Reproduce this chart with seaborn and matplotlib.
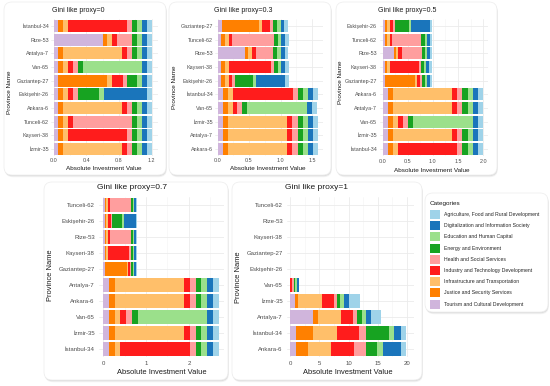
import numpy as np
import pandas as pd
import matplotlib
matplotlib.use('Agg')
import matplotlib.pyplot as plt
import seaborn as sns
from matplotlib.patches import FancyBboxPatch, Rectangle
from matplotlib.transforms import Affine2D
from matplotlib.ticker import MultipleLocator, FormatStrFormatter

# categories (legend order) and the stacking order used in the bars
CATEGORIES = ['Agriculture, Food and Rural Development',
              'Digitalization and Information Society',
              'Education and Human Capital',
              'Energy and Environment',
              'Health and Social Services',
              'Industry and Technology Development',
              'Infrastructure and Transportation',
              'Justice and Security Services',
              'Tourism and Cultural Development']
STACK = CATEGORIES[::-1]
COLORS = ['#9fd3e9', '#1a75bb', '#9be08b', '#17a321', '#ff9e9e',
          '#ff1c1c', '#ffbf6a', '#ff8000', '#d0b5dc']

# values per province, columns in STACK order:
# Tourism, Justice, Infrastructure, Industry, Health, Energy, Education, Digitalization, Agriculture
ORDER_0 = ['İstanbul-34', 'Rize-53', 'Antalya-7', 'Van-65', 'Gaziantep-27',
           'Eskişehir-26', 'Ankara-6', 'Tunceli-62', 'Kayseri-38', 'İzmir-35']
VALS_0 = [[.06, .06, .06, .72, .06, .06, .06, .06, .06],
          [.60, .06, .05, .07, .18, .06, .06, .06, .06],
          [.06, .06, .72, .06, .06, .06, .06, .06, .06],
          [.06, .06, .06, .06, .06, .06, .72, .06, .06],
          [.06, .59, .06, .14, .05, .12, .06, .06, .06],
          [.06, .06, .06, .06, .06, .26, .06, .52, .06],
          [.06, .06, .72, .06, .06, .06, .06, .06, .06],
          [.06, .06, .06, .06, .72, .06, .06, .06, .06],
          [.06, .06, .06, .72, .06, .06, .06, .06, .06],
          [.06, .06, .72, .06, .06, .06, .06, .06, .06]]

ORDER_03 = ['Gaziantep-27', 'Tunceli-62', 'Rize-53', 'Kayseri-38', 'Eskişehir-26',
            'İstanbul-34', 'Van-65', 'İzmir-35', 'Antalya-7', 'Ankara-6']
VALS_03 = [[.065, .59, .055, .13, .045, .065, .055, .055, .065],
           [.055, .065, .055, .055, .66, .065, .055, .065, .055],
           [.43, .055, .065, .055, .28, .065, .055, .065, .055],
           [.055, .065, .055, .67, .045, .065, .055, .065, .055],
           [.055, .065, .055, .055, .055, .28, .04, .47, .055],
           [.08, .08, .08, .96, .07, .08, .08, .08, .08],
           [.08, .08, .08, .07, .08, .08, .95, .08, .08],
           [.08, .08, .95, .08, .08, .08, .08, .08, .08],
           [.08, .08, .95, .08, .08, .08, .08, .08, .08],
           [.08, .08, .95, .08, .08, .08, .08, .08, .08]]

ORDER_05 = ['Eskişehir-26', 'Tunceli-62', 'Rize-53', 'Kayseri-38', 'Gaziantep-27',
            'Ankara-6', 'Antalya-7', 'Van-65', 'İzmir-35', 'İstanbul-34']
VALS_05 = [[.045, .05, .045, .065, .04, .29, .04, .36, .05],
           [.045, .05, .045, .055, .58, .06, .04, .06, .05],
           [.22, .045, .045, .07, .40, .055, .04, .06, .05],
           [.045, .05, .045, .59, .04, .06, .04, .06, .05],
           [.045, .60, .035, .06, .04, .06, .04, .06, .05],
           [.10, .10, 1.19, .10, .10, .10, .10, .10, .10],
           [.10, .10, 1.19, .10, .10, .10, .10, .10, .10],
           [.10, .10, .10, .10, .10, .10, 1.19, .10, .10],
           [.10, .10, 1.19, .10, .10, .10, .10, .10, .10],
           [.10, .10, .10, 1.19, .10, .10, .10, .10, .10]]

ORDER_07 = ['Tunceli-62', 'Eskişehir-26', 'Rize-53', 'Kayseri-38', 'Gaziantep-27',
            'Antalya-7', 'Ankara-6', 'Van-65', 'İzmir-35', 'İstanbul-34']
VALS_07 = [[.04, .04, .04, .04, .49, .04, .04, .04, .03],
           [.04, .04, .04, .06, .02, .25, .05, .26, .03],
           [.04, .04, .04, .04, .49, .04, .04, .04, .03],
           [.04, .04, .04, .49, .04, .04, .04, .04, .03],
           [.04, .51, .03, .04, .03, .04, .04, .04, .03],
           [.14, .13, 1.62, .13, .14, .13, .13, .14, .14],
           [.14, .13, 1.62, .13, .14, .13, .13, .14, .14],
           [.14, .13, .13, .14, .14, .13, 1.61, .14, .14],
           [.14, .13, 1.62, .13, .14, .13, .13, .14, .14],
           [.14, .13, .13, 1.62, .14, .13, .13, .14, .14]]

ORDER_1 = ['Tunceli-62', 'Rize-53', 'Kayseri-38', 'Gaziantep-27', 'Eskişehir-26',
           'Van-65', 'İzmir-35', 'Antalya-7', 'İstanbul-34', 'Ankara-6']
VALS_1 = [[.005] * 9,
          [.005] * 9,
          [.005] * 9,
          [.005] * 9,
          [.005] * 9,
          [.02, .02, .02, .3, .25, .3, .35, .2, .15],
          [.9, .55, 4.0, 2.0, .6, .5, .6, .85, 2.0],
          [4.0, .75, 4.0, 2.0, .75, .85, .7, .85, 1.6],
          [1.0, 3.0, 4.0, 3.85, 1.15, 4.0, .85, 1.15, .85],
          [1.0, 2.0, 4.0, 4.0, 2.0, 1.9, 1.0, 3.15, .85]]

TITLES = ['Gini like proxy=0', 'Gini like proxy=0.3', 'Gini like proxy=0.5',
          'Gini like proxy=0.7', 'Gini like proxy=1']

sns.set_style('whitegrid')
plt.rcParams['font.family'] = ['Liberation Sans', 'DejaVu Sans']
plt.rcParams['patch.force_edgecolor'] = False

W, H = 550, 386
fig = plt.figure(figsize=(W / 100, H / 100), dpi=100)
fig.patch.set_facecolor('white')
px = Affine2D().scale(1 / W, -1 / H).translate(0, 1) + fig.transFigure


def card(x0, y0, x1, y1):
    for off, a in [(2.2, 0.05), (1.2, 0.08)]:
        fig.patches.append(FancyBboxPatch((x0 + off * 0.4, y0 + off), x1 - x0, y1 - y0,
                                          boxstyle='round,pad=0,rounding_size=8',
                                          transform=px, fc='black', alpha=a,
                                          ec='none', zorder=-3))
    fig.patches.append(FancyBboxPatch((x0, y0), x1 - x0, y1 - y0,
                                      boxstyle='round,pad=0,rounding_size=8',
                                      transform=px, fc='white', ec='#ececec',
                                      lw=0.5, zorder=-2))


def ftext(x, y, s, **kw):
    fig.text(x / W, 1 - y / H, s, **kw)


# cards
for c in [(4, 2, 166, 175), (169, 2, 331, 175), (336, 2, 497, 175),
          (44, 182, 228, 380), (232, 182, 422, 380), (425, 193, 548, 312)]:
    card(*c)

# layout: zero px, px per unit, axes left/top/right/bottom px, ticks, fonts
LAYOUT = [
    dict(x0=53.5, s=81.7, box=(51, 19, 158, 156), ticks=[0, .4, .8, 1.2], fmt='%.1f',
         fs=3.9, lfs=4.6, tfs=5.0, title=(52, 10.5), ylab=(10, 92), xlab=(104, 168), pad=1.6),
    dict(x0=217.5, s=63.0, box=(215, 19, 323, 156), ticks=[0, .5, 1, 1.5], fmt='%.1f',
         fs=3.9, lfs=4.6, tfs=5.0, title=(214, 10.5), ylab=(175, 87), xlab=(268, 169), pad=1.6),
    dict(x0=382.5, s=50.3, box=(380, 19, 488, 156), ticks=[0, .5, 1, 1.5, 2], fmt='%.1f',
         fs=3.9, lfs=4.6, tfs=5.0, title=(378, 11), ylab=(340, 82), xlab=(432, 170), pad=2.2),
    dict(x0=103, s=43.0, box=(99, 197, 224, 357), ticks=[0, 1, 2], fmt='%d',
         fs=4.3, lfs=5.4, tfs=6.0, title=(97, 188), ylab=(51, 275), xlab=(162, 373), pad=3.0),
    dict(x0=290, s=5.85, box=(287, 197, 414, 357), ticks=[0, 5, 10, 15, 20], fmt='%d',
         fs=4.3, lfs=5.4, tfs=6.0, title=(285, 188), ylab=(238, 277), xlab=(348, 373), pad=3.0),
]

PANEL_DATA = [(ORDER_0, VALS_0), (ORDER_03, VALS_03), (ORDER_05, VALS_05),
              (ORDER_07, VALS_07), (ORDER_1, VALS_1)]
color_of = dict(zip(CATEGORIES, COLORS))

for (order, vals), lay, title in zip(PANEL_DATA, LAYOUT, TITLES):
    L, T, R, B = lay['box']
    ax = fig.add_axes([L / W, 1 - B / H, (R - L) / W, (B - T) / H])
    ax.set_facecolor('none')
    df = pd.DataFrame(vals, index=order, columns=STACK)
    cum = df.cumsum(axis=1)
    # draw cumulative totals from the longest to the shortest so they stack
    for cat in STACK[::-1]:
        sns.barplot(x=cum[cat].values, y=order, order=order, orient='h',
                    color=color_of[cat], saturation=1, width=0.87, linewidth=0,
                    edgecolor='none', errorbar=None, ax=ax)
    ax.set_xlim((L - lay['x0']) / lay['s'], (R - lay['x0']) / lay['s'])
    ax.set_xticks(lay['ticks'])
    ax.xaxis.set_major_formatter(FormatStrFormatter(lay['fmt']))
    ax.xaxis.set_minor_locator(MultipleLocator((lay['ticks'][1] - lay['ticks'][0]) / 2))
    ax.grid(which='major', axis='both', color='#ebebeb', lw=0.6)
    ax.grid(which='minor', axis='x', color='#f3f3f3', lw=0.4)
    ax.set_axisbelow(True)
    for sp in ax.spines.values():
        sp.set_visible(False)
    ax.tick_params(axis='both', which='both', length=0, labelsize=lay['fs'],
                   labelcolor='#4d4d4d', pad=lay['pad'])
    ax.set_xlabel('')
    ax.set_ylabel('')
    ftext(*lay['title'], title, fontsize=lay['tfs'], color='#1a1a1a', ha='left', va='center')
    ftext(*lay['xlab'], 'Absolute Investment Value', fontsize=lay['lfs'], color='#1a1a1a',
          ha='center', va='center')
    ftext(*lay['ylab'], 'Province Name', fontsize=lay['lfs'], color='#1a1a1a',
          ha='center', va='center', rotation=90)

# legend
ftext(430, 203.5, 'Categories', fontsize=4.6, color='#1a1a1a', ha='left', va='center')
for i, (lab, col) in enumerate(zip(CATEGORIES, COLORS)):
    yc = 214.5 + i * 11.2
    fig.patches.append(Rectangle((430, yc - 4.5), 10, 9, transform=px, fc=col,
                                 ec='none', zorder=2))
    ftext(444, yc, lab, fontsize=3.7, color='#262626', ha='left', va='center')

fig.savefig('out.png', dpi=100)
